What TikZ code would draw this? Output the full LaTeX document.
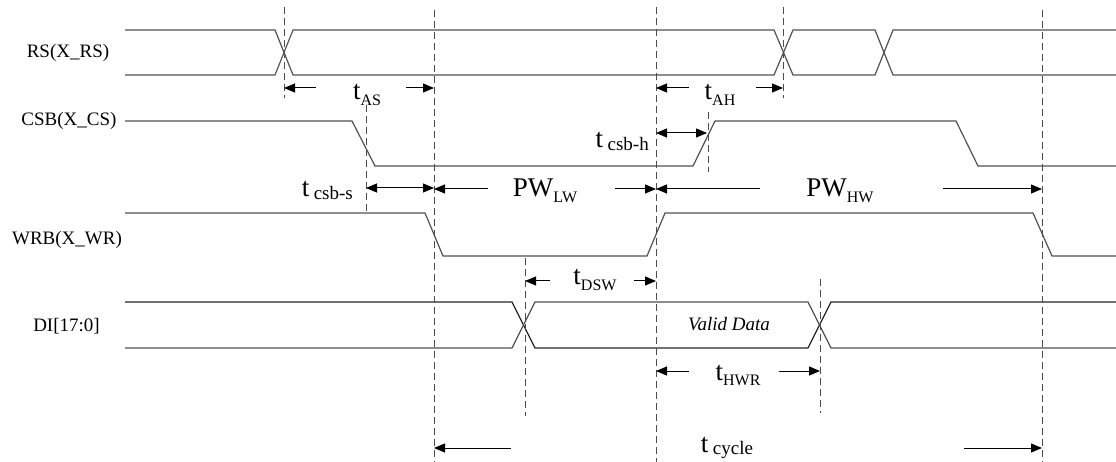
\documentclass[tikz,border=0pt]{standalone}
\usepackage{fontspec}
\setmainfont{Liberation Serif}
\usetikzlibrary{arrows.meta}
\newcommand{\lowsub}[1]{\raisebox{-0.2em}{\fontsize{16}{16}\selectfont #1}}
\newcommand{\spsub}[1]{\,\raisebox{-0.1em}{\fontsize{19}{19}\selectfont #1}}
\tikzset{
  wave/.style={line width=1.2pt, draw=black!68, line join=miter},
  wavek/.style={line width=1.2pt, draw=black!85},
  guide/.style={line width=1pt, draw=black!70, dash pattern=on 7pt off 4pt},
  dimarrow/.style={line width=1pt, -{Triangle[length=11pt,width=9pt]}},
  dimboth/.style={line width=1pt, {Triangle[length=11pt,width=9pt]}-{Triangle[length=11pt,width=9pt]}},
  sig/.style={font=\fontsize{19}{23}\selectfont, inner sep=0pt},
  lbl/.style={font=\fontsize{27}{30}\selectfont, inner sep=0pt, anchor=base},
  lblr/.style={font=\fontsize{27}{30}\selectfont, inner sep=0pt, anchor=base east},
  vd/.style={font=\fontsize{19}{23}\selectfont\itshape, inner sep=0pt, anchor=base}
}
\begin{document}
\begin{tikzpicture}[x=1pt,y=-1pt]
\useasboundingbox[fill=white] (0,0) rectangle (1116,462);

% signal labels
\node[sig] (lrs)  at (68,52.5) {RS(X\_RS)};
\node[sig] (lcs)  at (69,121) {CSB(X\_CS)};
\node[sig] (lwr)  at (67,240) {WRB(X\_WR)};
\node[sig] (ldi)  at (66.5,326) {DI[17:0]};

% RS waveform (bus)
\draw[wave] (125,30)--(275,30)--(293,75)--(774,75)--(793,30)--(875,30)--(893,75)--(1116,75);
\draw[wave] (125,75)--(275,75)--(293,30)--(774,30)--(793,75)--(875,75)--(893,30)--(1116,30);
% CSB
\draw[wave] (125,121)--(352,121)--(375,166)--(693,166)--(715,121)--(956,121)--(978,166)--(1116,166);
% WRB
\draw[wave] (125,213)--(425,213)--(443,256)--(647,256)--(665,213)--(1033,213)--(1052,256)--(1116,256);
% DI bus
\draw[wavek] (125,302)--(512,302)--(535,348)--(808,348)--(831,302)--(1116,302);
\draw[wave] (125,348)--(512,348)--(535,302)--(808,302)--(831,348)--(1116,348);
\node[vd] (valid) at (729,330) {Valid Data};

% guide coordinates
\coordinate (g1t) at (284,7);   \coordinate (g1b) at (284,98);
\coordinate (g2t) at (366,105); \coordinate (g2b) at (366,213);
\coordinate (g3t) at (434,10);  \coordinate (g3b) at (434,462);
\coordinate (g4t) at (525,258); \coordinate (g4b) at (525,416);
\coordinate (g5t) at (656,7);   \coordinate (g5b) at (656,462);
\coordinate (g6t) at (708,112); \coordinate (g6b) at (708,172);
\coordinate (g7t) at (783,7);   \coordinate (g7b) at (783,98);
\coordinate (g8t) at (820,279); \coordinate (g8b) at (820,413);
\coordinate (g9t) at (1042,10); \coordinate (g9b) at (1042,462);
\foreach \i in {1,...,9} { \draw[guide] (g\i t) -- (g\i b); }

% tAS
\coordinate (as1) at (284,88); \coordinate (as1s) at (316,88);
\coordinate (as2) at (434,88); \coordinate (as2s) at (406,88);
\draw[dimarrow] (as1s) -- (as1);
\draw[dimarrow] (as2s) -- (as2);
\node[lbl] (tas) at (367,100) {t\lowsub{AS}};
% tAH
\coordinate (ah1) at (656,88); \coordinate (ah1s) at (689,88);
\coordinate (ah2) at (783,88); \coordinate (ah2s) at (756,88);
\draw[dimarrow] (ah1s) -- (ah1);
\draw[dimarrow] (ah2s) -- (ah2);
\node[lbl] (tah) at (720,100) {t\lowsub{AH}};
% t csb-h
\coordinate (ch1) at (656,133); \coordinate (ch2) at (707,133);
\draw[dimboth] (ch1) -- (ch2);
\node[lblr] (tch) at (649,148) {t\spsub{csb-h}};
% t csb-s
\coordinate (cs1) at (366,188); \coordinate (cs2) at (434,188);
\draw[dimboth] (cs1) -- (cs2);
\node[lblr] (tcs) at (353,197) {t\spsub{csb-s}};
% PW LW
\coordinate (lw1) at (434,189); \coordinate (lw1s) at (488,189);
\coordinate (lw2) at (656,189); \coordinate (lw2s) at (615,189);
\draw[dimarrow] (lw1s) -- (lw1);
\draw[dimarrow] (lw2s) -- (lw2);
\node[lbl] (pwl) at (545,197) {PW\lowsub{LW}};
% PW HW
\coordinate (hw1) at (656,189); \coordinate (hw1s) at (760,189);
\coordinate (hw2) at (1042,189); \coordinate (hw2s) at (943,189);
\draw[dimarrow] (hw1s) -- (hw1);
\draw[dimarrow] (hw2s) -- (hw2);
\node[lbl] (pwh) at (840,197) {PW\lowsub{HW}};
% tDSW
\coordinate (ds1) at (525,281); \coordinate (ds1s) at (550,281);
\coordinate (ds2) at (656,281); \coordinate (ds2s) at (634,281);
\draw[dimarrow] (ds1s) -- (ds1);
\draw[dimarrow] (ds2s) -- (ds2);
\node[lbl] (tds) at (595,285) {t\lowsub{DSW}};
% tHWR
\coordinate (hr1) at (656,371); \coordinate (hr1s) at (689,371);
\coordinate (hr2) at (820,371); \coordinate (hr2s) at (779,371);
\draw[dimarrow] (hr1s) -- (hr1);
\draw[dimarrow] (hr2s) -- (hr2);
\node[lbl] (thr) at (738,380) {t\lowsub{HWR}};
% t cycle
\coordinate (cy1) at (434,448); \coordinate (cy1s) at (511,448);
\coordinate (cy2) at (1042,448); \coordinate (cy2s) at (964,448);
\draw[dimarrow] (cy1s) -- (cy1);
\draw[dimarrow] (cy2s) -- (cy2);
\node[lbl] (tcy) at (727,452) {t\spsub{cycle}};
\end{tikzpicture}
\end{document}
